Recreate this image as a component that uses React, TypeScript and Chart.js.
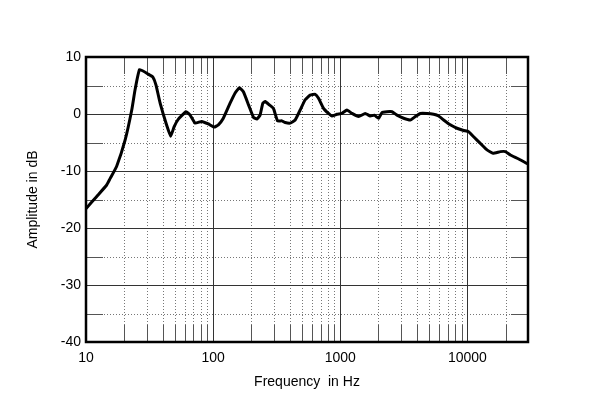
import React, { useEffect, useRef } from "react";
import { Chart, registerables } from "chart.js";

Chart.register(...registerables);

const freqs = [
  10.1, 12.1, 14.5, 15.5, 17.4, 20.3, 22.9, 24.3, 26.4, 30.9, 33.5, 35.5, 38.3, 43, 46.4,
  49.4, 53.3, 61.3, 65.9, 72.2, 81.4, 91.8, 102, 110, 120, 136, 149, 161, 173, 190,
  208, 221, 234, 246, 257, 277, 298, 321, 347, 369, 404, 442, 484, 530, 580, 636,
  675, 739, 809, 861, 942, 1031, 1129, 1237, 1395, 1573, 1722, 1852, 2005, 2130, 2333,
  2555, 2796, 3153, 3560, 3897, 4266, 4813, 5430, 5945, 6506, 7339, 8283, 9345, 10230,
  11210, 12650, 14280, 15930, 18200, 19920, 21810, 25370, 30000,
];
const amplitudes = [
  -16.5, -14.5, -12.5, -11.3, -9.2, -4.6, 0.7, 4.2, 7.8, 7.0, 6.5, 5.1, 1.9, -1.9, -3.9,
  -2.2, -0.9, 0.4, -0.2, -1.6, -1.3, -1.75, -2.3, -1.9, -0.8, 1.9, 3.7, 4.6, 3.9, 1.6,
  -0.6, -0.9, -0.2, 1.9, 2.2, 1.6, 1.0, -1.2, -1.2, -1.5, -1.6, -1.05, 0.7, 2.5, 3.3, 3.45,
  2.75, 1.0, 0.1, -0.35, -0.05, 0.1, 0.7, 0.1, -0.45, 0.1, -0.35, -0.2, -0.75, 0.25, 0.4,
  0.4, -0.2, -0.75, -1.05, -0.45, 0.1, 0.1, -0.05, -0.35, -1.05, -1.9, -2.5, -2.9, -3.1,
  -4.0, -5.15, -6.3, -6.9, -6.6, -6.6, -7.2, -7.9, -8.8,
];
const xTickValues = [10, 100, 1000, 10000];
const decades = [10, 100, 1000, 10000];
const minorMultipliers = [2, 3, 4, 5, 6, 7, 8, 9];
const majorDb = [-30, -20, -10, 0];
const minorDb = [-35, -25, -15, -5, 5];

const FONT = "Arial, 'Liberation Sans', Helvetica, sans-serif";

const gridPlugin = {
  id: "customGrid",
  beforeDatasetsDraw(chart: any) {
    const { ctx, chartArea } = chart;
    const { left, right, top, bottom } = chartArea;
    const xs = chart.scales.x;
    const ys = chart.scales.y;
    const seg = 17;
    ctx.save();
    ctx.lineWidth = 1;
    minorDb.forEach((v) => {
      const y = Math.round(ys.getPixelForValue(v)) + 0.5;
      ctx.strokeStyle = "#777";
      ctx.setLineDash([1, 2]);
      ctx.beginPath();
      ctx.moveTo(left, y);
      ctx.lineTo(right, y);
      ctx.stroke();
      ctx.setLineDash([]);
      ctx.strokeStyle = "#555";
      ctx.beginPath();
      ctx.moveTo(left, y);
      ctx.lineTo(left + seg, y);
      ctx.moveTo(right - seg, y);
      ctx.lineTo(right, y);
      ctx.stroke();
    });
    decades.forEach((d) => {
      minorMultipliers.forEach((m) => {
        const f = d * m;
        if (f >= 30000) return;
        const x = Math.round(xs.getPixelForValue(f)) + 0.5;
        ctx.strokeStyle = "#777";
        ctx.setLineDash([1, 2]);
        ctx.beginPath();
        ctx.moveTo(x, top);
        ctx.lineTo(x, bottom);
        ctx.stroke();
        ctx.setLineDash([]);
        ctx.strokeStyle = "#555";
        ctx.beginPath();
        ctx.moveTo(x, top);
        ctx.lineTo(x, top + seg);
        ctx.moveTo(x, bottom - seg);
        ctx.lineTo(x, bottom);
        ctx.stroke();
      });
    });
    ctx.setLineDash([]);
    ctx.strokeStyle = "#333";
    majorDb.forEach((v) => {
      const y = Math.round(ys.getPixelForValue(v)) + 0.5;
      ctx.beginPath();
      ctx.moveTo(left, y);
      ctx.lineTo(right, y);
      ctx.stroke();
    });
    decades.forEach((d) => {
      if (d === 10) return;
      const x = Math.round(xs.getPixelForValue(d)) + 0.5;
      ctx.beginPath();
      ctx.moveTo(x, top);
      ctx.lineTo(x, bottom);
      ctx.stroke();
    });
    ctx.restore();
  },
  afterDraw(chart: any) {
    const { ctx, chartArea } = chart;
    ctx.save();
    ctx.strokeStyle = "#000";
    ctx.lineWidth = 2.5;
    ctx.strokeRect(chartArea.left, chartArea.top, chartArea.right - chartArea.left, chartArea.bottom - chartArea.top);
    ctx.restore();
  },
};

export default function App() {
  const ref = useRef<HTMLCanvasElement | null>(null);
  useEffect(() => {
    if (!ref.current) return;
    const chart = new Chart(ref.current, {
      type: "line",
      data: {
        datasets: [
          {
            data: freqs.map((f, i) => ({ x: f, y: amplitudes[i] })),
            borderColor: "#000",
            borderWidth: 3,
            pointRadius: 0,
            tension: 0.12,
            borderJoinStyle: "round",
            borderCapStyle: "round",
            fill: false,
          },
        ],
      },
      options: {
        responsive: false,
        animation: false,
        devicePixelRatio: 1,
        layout: { padding: { left: 0, right: 72, top: 57, bottom: 0 } },
        plugins: { legend: { display: false }, tooltip: { enabled: false } },
        scales: {
          x: {
            type: "logarithmic",
            min: 10,
            max: 30000,
            grid: { display: false, drawTicks: false },
            border: { display: false },
            afterBuildTicks: (scale: any) => {
              scale.ticks = xTickValues.map((v) => ({ value: v }));
            },
            afterFit: (scale: any) => {
              scale.height = 65;
            },
            ticks: {
              autoSkip: false,
              maxRotation: 0,
              padding: 8,
              color: "#000",
              font: { family: FONT, size: 14 },
              callback: (v: any) => String(v),
            },
            title: {
              display: true,
              text: "Frequency  in Hz",
              color: "#000",
              font: { family: FONT, size: 14 },
              padding: { top: 0, bottom: 16 },
            },
          },
          y: {
            min: -40,
            max: 10,
            grid: { display: false, drawTicks: false },
            border: { display: false },
            afterFit: (scale: any) => {
              scale.width = 86;
            },
            ticks: {
              stepSize: 10,
              padding: 5,
              color: "#000",
              font: { family: FONT, size: 14 },
            },
            title: {
              display: true,
              text: "Amplitude in dB",
              color: "#000",
              font: { family: FONT, size: 14 },
              padding: { top: 25, bottom: 0 },
            },
          },
        },
      },
      plugins: [gridPlugin],
    } as any);
    return () => chart.destroy();
  }, []);
  return (
    <div style={{ position: "fixed", left: 0, top: 0, width: 600, height: 407, background: "#fff" }}>
      <canvas ref={ref} width={600} height={407} />
    </div>
  );
}
